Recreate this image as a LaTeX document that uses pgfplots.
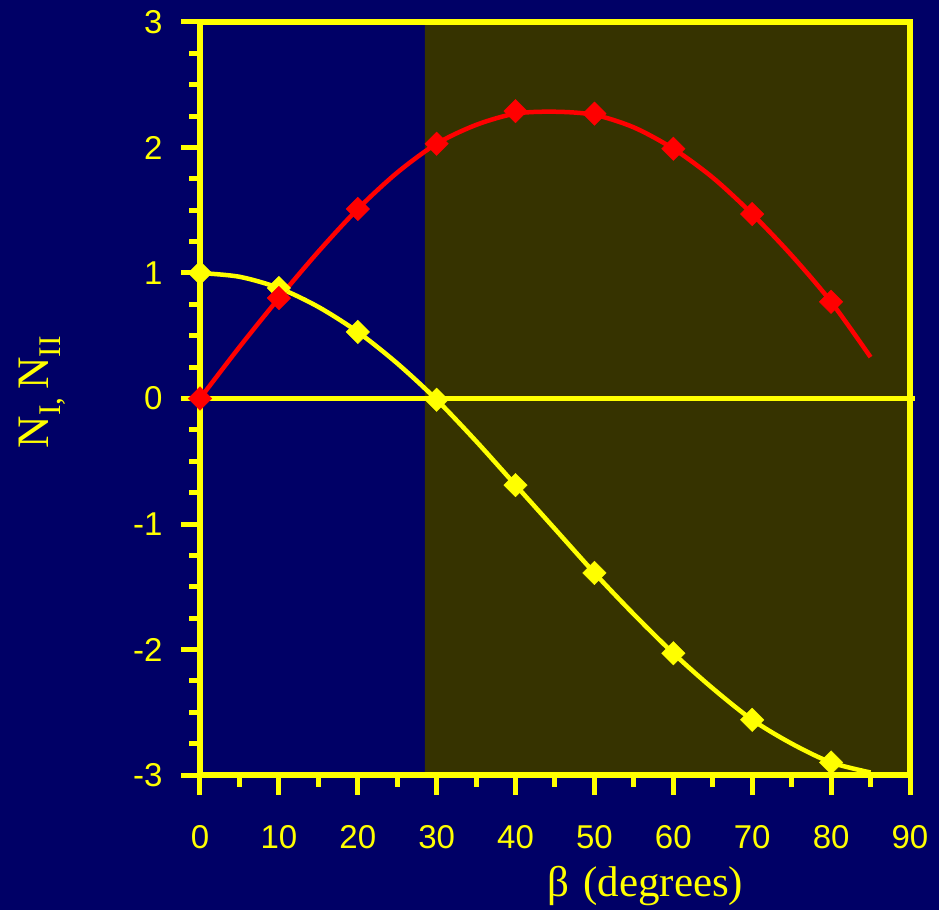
\documentclass[border=0pt]{standalone}
\usepackage{pgfplots}
\pgfplotsset{compat=1.18}
\usepackage{fontspec}
\setmainfont{Liberation Serif}
\newfontfamily\arial{Liberation Sans}
\definecolor{navybg}{HTML}{000066}
\definecolor{olivebg}{HTML}{363300}
\definecolor{ylw}{HTML}{FFFF00}
\definecolor{rd}{HTML}{FF0000}
\pgfplotsset{tickbars/.style={draw=none, mark=none, forget plot, error bars/error mark=none, error bars/error bar style={draw=ylw, line width=5pt, line cap=butt}}}
\begin{document}
\begin{tikzpicture}
\fill[navybg] (-200pt,-135pt) rectangle (739pt,775pt);
\begin{axis}[
  at={(0pt,0pt)}, anchor=south west,
  scale only axis, width=710pt, height=753pt,
  xmin=0, xmax=90, ymin=-3, ymax=3,
  axis on top=true, clip=false,
  axis line style={ylw, line width=5.5pt},
  xtick={0,10,...,90}, ytick={-3,-2,-1,0,1,2,3},
  yticklabels={-3,-2,-1,0,1,2,3},
  tick align=outside,
  xtick pos=bottom, ytick pos=left,
  major tick length=20pt,
  every major tick/.append style={draw=none},
  tick label style={font=\arial\fontsize{33}{36}\selectfont, text=ylw},
  xticklabel style={yshift=-27pt},
  yticklabel style={xshift=-14pt},
  /pgf/number format/assume math mode=true,
  xlabel={β\,\,(degrees)},
  xlabel style={font=\fontsize{43}{46}\selectfont, text=ylw, at={(axis description cs:0.627,-0.1480)}, anchor=center},
  ylabel={N\textsubscript{I,}\,N\textsubscript{II}},
  ylabel style={font=\fontsize{45}{48}\selectfont, text=ylw, at={(axis description cs:-0.2225,0.5086)}, anchor=center, rotate=0},
]
\addplot[fill=olivebg, draw=none] coordinates {(28.5,-3) (90,-3) (90,3) (28.5,3)} \closedcycle;
% tick marks (thick)
\addplot[tickbars, error bars/y dir=minus, error bars/y explicit] coordinates {
(0,-3) +- (0,0.159) (10,-3) +- (0,0.159) (20,-3) +- (0,0.159) (30,-3) +- (0,0.159) (40,-3) +- (0,0.159)
(50,-3) +- (0,0.159) (60,-3) +- (0,0.159) (70,-3) +- (0,0.159) (80,-3) +- (0,0.159) (90,-3) +- (0,0.159)};
\addplot[tickbars, error bars/y dir=minus, error bars/y explicit] coordinates {
(5,-3) +- (0,0.092) (15,-3) +- (0,0.092) (25,-3) +- (0,0.092) (35,-3) +- (0,0.092) (45,-3) +- (0,0.092)
(55,-3) +- (0,0.092) (65,-3) +- (0,0.092) (75,-3) +- (0,0.092) (85,-3) +- (0,0.092)};
\addplot[tickbars, error bars/x dir=minus, error bars/x explicit] coordinates {
(0,-3) +- (2.4,0) (0,-2) +- (2.4,0) (0,-1) +- (2.4,0) (0,0) +- (2.4,0) (0,1) +- (2.4,0) (0,2) +- (2.4,0) (0,3) +- (2.4,0)};
\addplot[tickbars, error bars/x dir=minus, error bars/x explicit] coordinates {
(0,-2.75) +- (1.4,0) (0,-2.5) +- (1.4,0) (0,-2.25) +- (1.4,0)
(0,-1.75) +- (1.4,0) (0,-1.5) +- (1.4,0) (0,-1.25) +- (1.4,0)
(0,-0.75) +- (1.4,0) (0,-0.5) +- (1.4,0) (0,-0.25) +- (1.4,0)
(0,0.25) +- (1.4,0) (0,0.5) +- (1.4,0) (0,0.75) +- (1.4,0)
(0,1.25) +- (1.4,0) (0,1.5) +- (1.4,0) (0,1.75) +- (1.4,0)
(0,2.25) +- (1.4,0) (0,2.5) +- (1.4,0) (0,2.75) +- (1.4,0)};
\addplot[ylw, line width=5pt] coordinates {(0,0) (90.6,0)};
% yellow line
\addplot[ylw, line width=4.5pt, smooth] coordinates {
(0,1.00) (5,0.97) (10,0.88) (15,0.73) (20,0.53) (25,0.28) (30,-0.01) (35,-0.34) (40,-0.69) (45,-1.04) (50,-1.39) (55,-1.72) (60,-2.03) (65,-2.31) (70,-2.56) (75,-2.75) (80,-2.90) (85,-2.98)};
\addplot[only marks, mark=square*, mark size=8.3pt, mark options={ylw, fill=ylw, rotate=45, rounded corners=2pt}] coordinates {
(0,1.00) (10,0.88) (20,0.53) (30,-0.01) (40,-0.69) (50,-1.39) (60,-2.03) (70,-2.56) (80,-2.90)};
% red line
\addplot[rd, line width=4.5pt, smooth] coordinates {
(0,0) (5,0.41) (10,0.80) (15,1.17) (20,1.51) (25,1.80) (30,2.03) (35,2.18) (40,2.27) (45,2.285) (50,2.26) (55,2.16) (60,1.99) (65,1.76) (70,1.47) (75,1.14) (80,0.77) (85,0.33)};
\addplot[only marks, mark=square*, mark size=8.3pt, mark options={rd, fill=rd, rotate=45, rounded corners=2pt}] coordinates {
(0,0) (10,0.80) (20,1.51) (30,2.03) (40,2.29) (50,2.27) (60,1.99) (70,1.47) (80,0.77)};
\end{axis}
\end{tikzpicture}
\end{document}
